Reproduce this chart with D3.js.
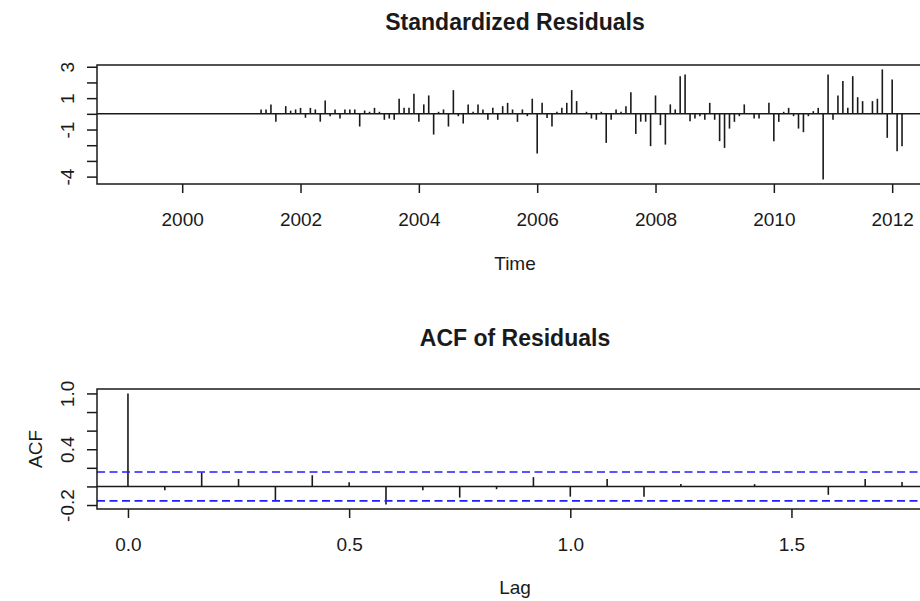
<!DOCTYPE html>
<html>
<head>
<meta charset="utf-8">
<script src="https://cdn.jsdelivr.net/npm/d3@7"></script>
<style>
  body { margin: 0; background: #fff; }
  svg { display: block; font-family: 'Liberation Sans', Arial, sans-serif; }
</style>
</head>
<body>
<script>
// standardized residuals, monthly, starting Feb 1999
const startYear = 1999, startMonth = 2
const residuals = [
  0, 0, 0, 0, 0, 0, 0, 0, 0, 0, 0, 0, 0, 0, 0, 0, 0, 0, 0, 0, 0, 0, 0, 0, 0, 0, 0,
  0.28, 0.28, 0.6, -0.5, 0.05, 0.49, 0.2, 0.28, 0.38, -0.25, 0.38, 0.28,
  -0.5, 0.85, -0.15, 0.28, -0.3, 0.28, 0.28, 0.28, -0.81, 0.21, 0.13, 0.38,
  0.13, -0.38, -0.3, -0.38, 0.96, 0.38, 0.38, 1.28, -0.51, 0.6, 1.17, -1.32,
  0.13, 0.28, -0.81, 1.51, -0.15, -0.62, 0.6, 0.13, 0.6, 0.28, -0.38, 0.38,
  -0.38, 0.49, 0.7, 0.28, -0.51, 0.28, -0.15, 0.96, -2.53, 0.7, -0.26, -0.81,
  0.13, 0.38, 0.7, 1.51, 0.81, 0.05, 0.13, -0.3, -0.38, 0.13, -1.85, -0.38,
  0.28, 0.13, 0.49, 1.38, -1.28, -0.5, -0.5, -2.06, 1.17, -0.72, -1.96, 0.6,
  0.28, 2.4, 2.51, -0.47, -0.3, -0.15, -0.38, 0.7, -0.38, -1.74, -2.17, -0.94,
  -0.51, -0.15, 0.6, 0.03, -0.3, -0.3, 0.05, 0.7, -1.74, -0.51, 0.13, 0.38,
  -0.15, -0.94, -1.17, -0.15, 0.17, 0.38, -4.19, 2.51, -0.38, 1.17, 2.09, 0.38,
  2.4, 1.06, 0.81, 0.03, 0.81, 0.96, 2.83, -1.53, 2.19, -2.38, -2.06
]
const residTicks = [-4, -3, -2, -1, 0, 1, 2, 3]
const residTickLabels = [3, 1, -1, -4]
const yearTicks = [2000, 2002, 2004, 2006, 2008, 2010, 2012]

// autocorrelation of residuals at lags 0..21 months
const acfValues = [1.0, -0.04, 0.15, 0.08, -0.16, 0.12, 0.045, -0.195, -0.04, -0.12,
  -0.03, 0.10, -0.11, 0.08, -0.11, 0.025, 0.005, 0.025, -0.005, -0.09, 0.08, 0.047]
const acfTicks = [-0.2, 0, 0.2, 0.4, 0.6, 0.8, 1.0]
const acfTickLabels = [-0.2, 0.4, 1.0]
const lagTicks = [0, 0.5, 1.0, 1.5]

const W = 920, H = 601
const left = 97, right = 933
const ink = '#1a1a1a'
const labelSize = 19, titleSize = 23

const svg = d3.select('body').append('svg')
    .attr('width', W)
    .attr('height', H)
svg.append('rect').attr('width', W).attr('height', H).attr('fill', '#fff')

// pad a range by 4% on each side, like R does
function pad(ext) {
    const d = (ext[1] - ext[0]) * 0.04
    return [ext[0] - d, ext[1] + d]
}

// plain hyphen minus, as R prints it
const intFmt = d => String(d)
const oneDec = d => d.toFixed(1)

function leftAxis(g, y, ticks, labels, fmt) {
    g.call(d3.axisLeft(y).tickValues(ticks).tickSize(10).tickPadding(0)
        .tickFormat(d => labels.some(l => Math.abs(l - d) < 1e-9) ? fmt(d) : ''))
    g.select('.domain').remove()
    g.selectAll('line').attr('stroke', ink).attr('stroke-width', 1.5)
    g.selectAll('text')
        .attr('x', null).attr('dy', null)
        .attr('transform', 'rotate(-90)')
        .attr('y', -23)
        .attr('text-anchor', 'middle')
        .attr('font-size', labelSize).attr('fill', ink)
}

function bottomAxis(g, x, ticks, fmt) {
    g.call(d3.axisBottom(x).tickValues(ticks).tickSize(9).tickPadding(0).tickFormat(fmt))
    g.select('.domain').remove()
    g.selectAll('line').attr('stroke', ink).attr('stroke-width', 1.5)
    g.selectAll('text').attr('dy', null).attr('y', 42)
        .attr('font-size', labelSize).attr('fill', ink)
}

// ---------- top panel: standardized residuals ----------
const top1 = 65, bot1 = 184
const times = residuals.map((d, i) => startYear + (startMonth - 1 + i) / 12)
const x1 = d3.scaleLinear().domain(pad(d3.extent(times))).range([left, right])
const y1 = d3.scaleLinear().domain(pad(d3.extent(residuals))).range([bot1, top1])

const p1 = svg.append('g')
p1.selectAll('.bar')
    .data(residuals)
    .enter().append('line')
    .attr('class', 'bar')
    .attr('x1', (d, i) => x1(times[i]))
    .attr('x2', (d, i) => x1(times[i]))
    .attr('y1', y1(0))
    .attr('y2', d => y1(d))
    .attr('stroke', ink)
    .attr('stroke-width', 1.6)

p1.append('line')
    .attr('x1', left).attr('x2', right)
    .attr('y1', y1(0)).attr('y2', y1(0))
    .attr('stroke', ink).attr('stroke-width', 1.5)

p1.append('rect')
    .attr('x', left).attr('y', top1)
    .attr('width', right - left).attr('height', bot1 - top1)
    .attr('fill', 'none').attr('stroke', ink).attr('stroke-width', 1.5)

p1.append('g').attr('transform', 'translate(' + left + ',0)')
    .call(g => leftAxis(g, y1, residTicks, residTickLabels, intFmt))
p1.append('g').attr('transform', 'translate(0,' + bot1 + ')')
    .call(g => bottomAxis(g, x1, yearTicks, intFmt))

svg.append('text')
    .attr('x', (left + right) / 2).attr('y', 30)
    .attr('text-anchor', 'middle')
    .attr('font-size', titleSize).attr('font-weight', 'bold').attr('fill', ink)
    .text('Standardized Residuals')
svg.append('text')
    .attr('x', (left + right) / 2).attr('y', 270)
    .attr('text-anchor', 'middle')
    .attr('font-size', labelSize).attr('fill', ink)
    .text('Time')

// ---------- bottom panel: ACF of residuals ----------
const top2 = 389, bot2 = 509
const lags = acfValues.map((d, i) => i / 12)
const clim = 1.96 / Math.sqrt(residuals.length)
const x2 = d3.scaleLinear().domain(pad(d3.extent(lags))).range([left, right])
const y2 = d3.scaleLinear()
    .domain(pad(d3.extent(acfValues.concat([-clim, clim]))))
    .range([bot2, top2])

const p2 = svg.append('g')
p2.selectAll('.acf')
    .data(acfValues)
    .enter().append('line')
    .attr('class', 'acf')
    .attr('x1', (d, i) => x2(lags[i]))
    .attr('x2', (d, i) => x2(lags[i]))
    .attr('y1', y2(0))
    .attr('y2', d => y2(d))
    .attr('stroke', ink)
    .attr('stroke-width', 1.6)

p2.append('line')
    .attr('x1', left).attr('x2', right)
    .attr('y1', y2(0)).attr('y2', y2(0))
    .attr('stroke', ink).attr('stroke-width', 1.5)

p2.selectAll('.clim')
    .data([clim, -clim])
    .enter().append('line')
    .attr('class', 'clim')
    .attr('x1', left).attr('x2', right)
    .attr('y1', d => y2(d)).attr('y2', d => y2(d))
    .attr('stroke', '#1f1fff').attr('stroke-width', 1.6)
    .attr('stroke-dasharray', '8,4.5')

p2.append('rect')
    .attr('x', left).attr('y', top2)
    .attr('width', right - left).attr('height', bot2 - top2)
    .attr('fill', 'none').attr('stroke', ink).attr('stroke-width', 1.5)

p2.append('g').attr('transform', 'translate(' + left + ',0)')
    .call(g => leftAxis(g, y2, acfTicks, acfTickLabels, oneDec))
p2.append('g').attr('transform', 'translate(0,' + bot2 + ')')
    .call(g => bottomAxis(g, x2, lagTicks, oneDec))

svg.append('text')
    .attr('x', (left + right) / 2).attr('y', 346)
    .attr('text-anchor', 'middle')
    .attr('font-size', titleSize).attr('font-weight', 'bold').attr('fill', ink)
    .text('ACF of Residuals')
svg.append('text')
    .attr('x', (left + right) / 2).attr('y', 594)
    .attr('text-anchor', 'middle')
    .attr('font-size', labelSize).attr('fill', ink)
    .text('Lag')
svg.append('text')
    .attr('transform', 'translate(42,' + (top2 + bot2) / 2 + ') rotate(-90)')
    .attr('text-anchor', 'middle')
    .attr('font-size', labelSize).attr('fill', ink)
    .text('ACF')
</script>
</body>
</html>
